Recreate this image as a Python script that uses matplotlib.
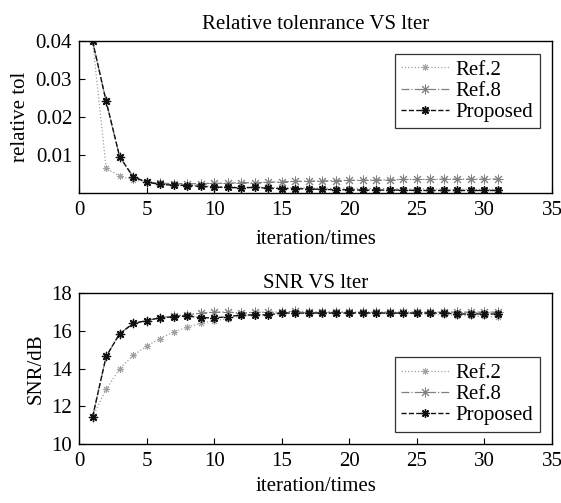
import matplotlib
matplotlib.use("Agg")
import matplotlib.pyplot as plt
import numpy as np

plt.rcParams['font.family'] = ['Liberation Serif', 'DejaVu Serif']

iters = list(range(1, 32))

# Relative tolerance
tol_ref2 = [0.040, 0.0066, 0.0045, 0.0035, 0.0030, 0.0026, 0.0023, 0.0021, 0.0020, 0.0018,
            0.0017, 0.0016, 0.0016, 0.0015, 0.0015, 0.0014, 0.0014, 0.0013, 0.0013, 0.0013,
            0.0012, 0.0012, 0.0012, 0.0011, 0.0011, 0.0011, 0.0010, 0.0010, 0.0010, 0.0010, 0.0010]
tol_ref8 = [0.040, 0.0242, 0.0096, 0.0043, 0.0029, 0.0026, 0.0025, 0.0025, 0.0025, 0.0026,
            0.0026, 0.0028, 0.0027, 0.0029, 0.0030, 0.0031, 0.0032, 0.0032, 0.0033, 0.0034,
            0.0034, 0.0035, 0.0035, 0.0036, 0.0036, 0.0036, 0.0037, 0.0037, 0.0037, 0.0037, 0.0037]
tol_prop = [0.040, 0.0242, 0.0096, 0.0043, 0.0029, 0.0023, 0.0021, 0.0020, 0.0018, 0.0016,
            0.0015, 0.0014, 0.0015, 0.0013, 0.0012, 0.0012, 0.0011, 0.0010, 0.0009, 0.0009,
            0.0008, 0.0008, 0.0008, 0.0008, 0.0007, 0.0007, 0.0007, 0.0007, 0.0007, 0.0007, 0.0007]

# SNR
snr_ref2 = [11.45, 12.9, 14.0, 14.7, 15.2, 15.6, 15.95, 16.2, 16.4, 16.55,
            16.65, 16.8, 16.85, 16.9, 16.95, 17.0, 17.0, 17.0, 17.0, 17.0,
            16.98, 16.97, 16.95, 16.93, 16.9, 16.88, 16.85, 16.82, 16.8, 16.77, 16.75]
snr_ref8 = [11.45, 14.65, 15.85, 16.4, 16.55, 16.7, 16.8, 16.85, 16.95, 17.0,
            17.0, 16.95, 17.0, 17.0, 17.0, 17.05, 17.0, 17.0, 17.0, 17.0,
            17.0, 17.0, 17.0, 17.0, 17.0, 17.0, 17.0, 17.0, 17.0, 17.0, 17.0]
snr_prop = [11.45, 14.65, 15.85, 16.4, 16.55, 16.7, 16.75, 16.8, 16.7, 16.7,
            16.75, 16.85, 16.85, 16.85, 16.95, 16.95, 16.95, 16.95, 16.95, 16.95,
            16.95, 16.95, 16.95, 16.95, 16.95, 16.95, 16.95, 16.9, 16.9, 16.9, 16.9]

labels = ['Ref.2', 'Ref.8', 'Proposed']
xticks = [0, 5, 10, 15, 20, 25, 30, 35]

fig = plt.figure(figsize=(5.61, 5.03), dpi=100)
ax1 = fig.add_axes([0.141, 0.616, 0.843, 0.302])
ax2 = fig.add_axes([0.141, 0.117, 0.843, 0.300])

ast = (8, 2, 0)
styles = [
    dict(color='#a0a0a0', ls=':', lw=0.9, marker=ast, ms=5, mew=0.7),
    dict(color='#808080', ls='-.', lw=0.9, marker=ast, ms=7, mew=0.7),
    dict(color='#111111', ls='--', lw=1.0, marker=ast, ms=6, mew=1.0),
]

fs = 15
for ax, series, title, ylab, tpad, xpad in [
    (ax1, [tol_ref2, tol_ref8, tol_prop], 'Relative tolenrance VS lter', 'relative tol', 9, 7),
    (ax2, [snr_ref2, snr_ref8, snr_prop], 'SNR VS lter', 'SNR/dB', 4, 4),
]:
    for s, st, lab in zip(series, styles, labels):
        ax.plot(iters, s, label=lab, **st)
    ax.set_xlim(0, 35)
    ax.set_xticks(xticks)
    ax.set_title(title, fontsize=fs, pad=tpad)
    ax.set_ylabel(ylab, fontsize=fs, labelpad=4)
    ax.set_xlabel('iteration/times', fontsize=fs, labelpad=xpad)
    ax.tick_params(direction='in', labelsize=fs, length=4, top=False, right=False)
    ax.tick_params(axis='x', pad=6)
    ax.tick_params(axis='y', pad=5)
    for sp in ax.spines.values():
        sp.set_linewidth(1.0)

ax1.set_ylim(0, 0.04)
ax1.set_yticks([0.01, 0.02, 0.03, 0.04])
ax1.set_yticklabels(['0.01', '0.02', '0.03', '0.04'])
ax2.set_ylim(10, 18)
ax2.set_yticks([10, 12, 14, 16, 18])

for ax, loc in [(ax1, 'upper right'), (ax2, 'lower right')]:
    leg = ax.legend(loc=loc, fontsize=fs, frameon=True, fancybox=False, edgecolor='black',
                    handlelength=2.3, handletextpad=0.3, borderpad=0.3, labelspacing=0.08,
                    borderaxespad=0.6)
    leg.get_frame().set_linewidth(0.9)

fig.savefig('out.png', dpi=100)
